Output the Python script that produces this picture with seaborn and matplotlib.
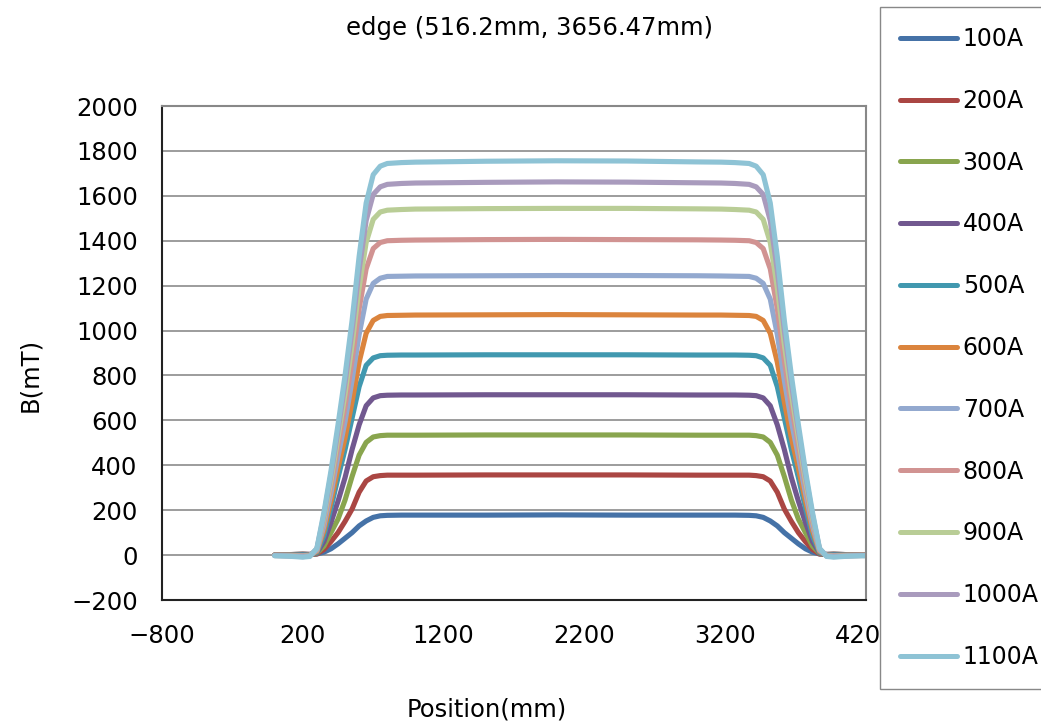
import matplotlib
matplotlib.use("Agg")
import matplotlib.pyplot as plt
from matplotlib.lines import Line2D
import pandas as pd
import seaborn as sns

# Measurement positions along the magnet (mm)
positions = [0, 100, 200, 250, 300, 350, 400, 450, 500, 550, 600, 650, 700, 750, 800, 900, 1000,
             1500, 2000, 2500, 3000,
             3170, 3270, 3370, 3420, 3470, 3520, 3570, 3620, 3670, 3720, 3770, 3820, 3870, 3920,
             3970, 4070, 4170, 4250]

# Field B (mT) at each position, one list per excitation current
b100 = [0, 2, 4, 3, 5, 13, 28, 50, 75, 100, 130, 152, 168, 175, 177, 178, 178,
        178, 179, 178, 178,
        178, 178, 177, 175, 168, 152, 130, 100, 75, 50, 28, 13, 5, 3, 4, 2, 0, 0]
b200 = [0, 2, 4, 3, 5, 25, 60, 100, 150, 205, 280, 330, 349, 354, 356, 356, 356,
        357, 357, 357, 356,
        356, 356, 356, 354, 349, 330, 280, 205, 150, 100, 60, 25, 5, 3, 4, 2, 0, 0]
b300 = [0, 2, 3, 2, 8, 40, 100, 160, 245, 350, 445, 502, 526, 532, 534, 534, 534,
        535, 535, 535, 534,
        534, 534, 534, 532, 526, 502, 445, 350, 245, 160, 100, 40, 8, 2, 3, 2, 0, 0]
b400 = [0, 1, 2, 2, 10, 60, 145, 240, 345, 470, 580, 665, 700, 710, 712, 713, 713,
        714, 714, 714, 713,
        713, 713, 712, 710, 700, 665, 580, 470, 345, 240, 145, 60, 10, 2, 2, 1, 0, 0]
b500 = [0, 0, 1, 1, 12, 85, 210, 345, 470, 610, 750, 845, 878, 888, 890, 891, 891,
        892, 892, 892, 891,
        891, 891, 890, 888, 878, 845, 750, 610, 470, 345, 210, 85, 12, 1, 1, 0, 0, 0]
b600 = [0, 0, -2, 0, 16, 109, 241, 387, 521, 682, 859, 988, 1045, 1063, 1067, 1068, 1069,
        1070, 1071, 1070, 1069,
        1069, 1068, 1067, 1063, 1045, 988, 859, 682, 521, 387, 241, 109, 16, 0, -2, 0, 0, 0]
b700 = [-1, -1, -3, -1, 20, 129, 276, 439, 594, 778, 982, 1140, 1210, 1233, 1241, 1242, 1243,
        1244, 1245, 1245, 1244,
        1243, 1242, 1241, 1233, 1210, 1140, 982, 778, 594, 439, 276, 129, 20, -1, -3, -1, -1, -1]
b800 = [-1, -2, -4, -2, 22, 149, 309, 487, 662, 867, 1097, 1275, 1365, 1392, 1400, 1402, 1403,
        1405, 1406, 1405, 1404,
        1403, 1402, 1400, 1392, 1365, 1275, 1097, 867, 662, 487, 309, 149, 22, -2, -4, -2, -1, -1]
b900 = [-2, -3, -6, -3, 26, 165, 334, 524, 718, 938, 1191, 1392, 1495, 1528, 1536, 1539, 1541,
        1543, 1544, 1544, 1542,
        1541, 1539, 1536, 1528, 1495, 1392, 1191, 938, 718, 524, 334, 165, 26, -3, -6, -3, -2, -2]
b1000 = [-2, -4, -7, -4, 28, 179, 358, 555, 764, 999, 1269, 1490, 1606, 1640, 1651, 1655, 1657,
         1660, 1662, 1661, 1658,
         1657, 1655, 1651, 1640, 1606, 1490, 1269, 999, 764, 555, 358, 179, 28, -4, -7, -4, -2, -2]
b1100 = [-3, -5, -9, -6, 30, 190, 375, 580, 800, 1045, 1330, 1568, 1694, 1732, 1744, 1748, 1750,
         1754, 1756, 1755, 1751,
         1750, 1748, 1744, 1732, 1694, 1568, 1330, 1045, 800, 580, 375, 190, 30, -6, -9, -5, -3, -3]

currents = ["100A", "200A", "300A", "400A", "500A", "600A",
            "700A", "800A", "900A", "1000A", "1100A"]
series = [b100, b200, b300, b400, b500, b600, b700, b800, b900, b1000, b1100]
colors = ["#4572A7", "#AA4643", "#89A54E", "#71588F", "#4198AF", "#DB843D",
          "#93A9CF", "#D19392", "#B9CD96", "#A99BBD", "#8EC3D5"]

x_ticks = [-800, 200, 1200, 2200, 3200, 4200]
y_ticks = list(range(-200, 2001, 200))

title = "edge (516.2mm, 3656.47mm)"

df = pd.concat(
    [pd.DataFrame({"Position": positions, "B": vals, "Current": name})
     for name, vals in zip(currents, series)],
    ignore_index=True,
)

sns.set_style("white")
plt.rcParams["font.family"] = ["DejaVu Sans"]
plt.rcParams["text.color"] = "black"
FS = 17.5
LEG_FS = 17

W, H = 1041, 726
fig = plt.figure(figsize=(W / 100, H / 100), dpi=100)
ax = fig.add_axes([162 / W, 1 - 600 / H, (866 - 162) / W, (600 - 106) / H])

sns.lineplot(
    data=df, x="Position", y="B", hue="Current", hue_order=currents,
    palette=dict(zip(currents, colors)), sort=False, estimator=None,
    linewidth=3.7, legend=False, ax=ax,
    solid_capstyle="round", solid_joinstyle="round",
)

ax.set_xlim(-800, 4200)
ax.set_ylim(-200, 2000)
ax.set_xticks(x_ticks)
ax.set_yticks(y_ticks)
ax.set_xlabel("")
ax.set_ylabel("")
ax.yaxis.grid(True, color="#949494", linewidth=1.3)
ax.xaxis.grid(False)
ax.set_axisbelow(True)
ax.tick_params(direction="in", length=7, width=1, color="#222222",
               labelsize=FS, pad=17.5, labelcolor="black")
for side in ("left", "bottom"):
    ax.spines[side].set_color("#222222")
    ax.spines[side].set_linewidth(1.5)
for side in ("top", "right"):
    ax.spines[side].set_color("#888888")
    ax.spines[side].set_linewidth(1.5)

fig.text(530 / W, 1 - 28 / H, title, ha="center", va="center", fontsize=FS, color="black")
fig.text(30 / W, 1 - 375 / H, "B(mT)", rotation=90, ha="center", va="center",
         fontsize=FS, color="black")
fig.text(487 / W, 1 - 710 / H, "Position(mm)", ha="center", va="center",
         fontsize=FS, color="black")

handles = [Line2D([0], [0], color=c, linewidth=3.6, solid_capstyle="round") for c in colors]
leg = fig.legend(
    handles, currents, loc="upper left",
    bbox_to_anchor=(880 / W, 1 - 7 / H), bbox_transform=fig.transFigure,
    frameon=True, fancybox=False, edgecolor="#888888", facecolor="white",
    framealpha=1, fontsize=LEG_FS, handlelength=2.4, handletextpad=0.25,
    borderpad=0.85, labelspacing=1.6, borderaxespad=0,
)
for t in leg.get_texts():
    t.set_color("black")
leg.get_frame().set_linewidth(1.0)
leg.set_zorder(10)

fig.savefig("out.png", dpi=100)
